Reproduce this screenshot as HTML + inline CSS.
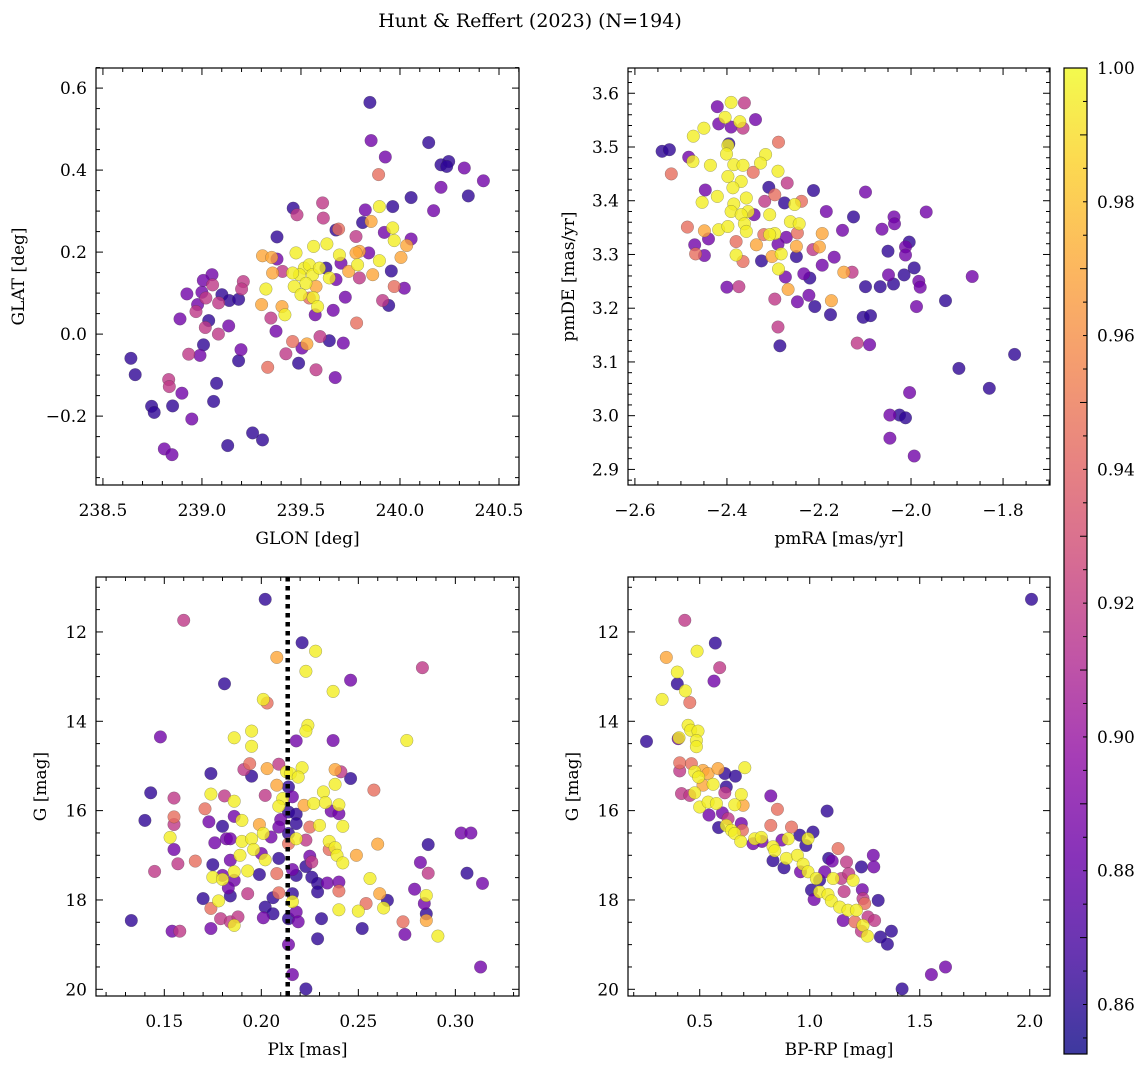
<!DOCTYPE html>
<html><head><meta charset="utf-8">
<style>
html,body{margin:0;padding:0;background:#fff;}
svg{display:block;font-family:"DejaVu Serif","Liberation Serif",serif;}
</style></head>
<body>
<svg id="fig" width="1148" height="1067" viewBox="0 0 1148 1067" xmlns="http://www.w3.org/2000/svg">
<defs>
<linearGradient id="cbgrad" x1="0" y1="1" x2="0" y2="0">
<stop offset="0" stop-color="#0d0887"/><stop offset="0.1" stop-color="#41049d"/><stop offset="0.2" stop-color="#6a00a8"/><stop offset="0.3" stop-color="#8f0da4"/><stop offset="0.4" stop-color="#b12a90"/><stop offset="0.5" stop-color="#cc4778"/><stop offset="0.6" stop-color="#e16462"/><stop offset="0.7" stop-color="#f2844b"/><stop offset="0.8" stop-color="#fca636"/><stop offset="0.9" stop-color="#fcce25"/><stop offset="1" stop-color="#f0f921"/>
</linearGradient>
</defs>
<text x="530" y="27" font-size="19" text-anchor="middle">Hunt &amp; Reffert (2023) (N=194)</text>
</svg>
<script>
// ---- Data (membership probability codes) ----
const D=0.862,P=0.885,M=0.918,S=0.945,O=0.97,Y=0.996;
// Panel 1: GLON / GLAT
const glon=[239.848,239.854,240.145,239.926,240.207,240.246,240.236,240.325,240.421,239.892,240.207,240.345,240.056,240.170,239.896,239.963,239.825,239.854,239.811,239.609,239.613,239.461,239.480,239.690,239.677,239.778,239.921,239.963,239.971,240.056,240.034,240.005,239.896,239.842,239.795,239.778,239.786,239.862,239.795,239.741,239.956,239.971,240.022,239.912,239.943,239.724,239.663,239.781,239.714,239.643,239.596,239.576,239.673,239.488,239.424,239.458,239.505,239.530,239.332,239.374,239.348,239.419,239.404,239.301,239.323,239.357,239.407,239.379,239.306,239.352,239.379,239.475,239.564,239.631,239.694,239.702,239.626,239.517,239.542,239.492,239.458,239.559,239.593,239.525,239.466,239.500,239.562,239.584,239.572,239.542,239.643,239.677,239.576,239.051,239.007,238.924,239.000,239.054,239.020,239.101,239.138,239.185,239.209,239.200,238.978,238.970,239.084,238.889,239.034,239.017,239.135,239.083,239.008,238.933,238.990,239.197,239.185,238.641,238.663,238.832,238.835,238.899,239.074,239.059,238.852,238.746,238.759,238.949,239.256,239.306,239.130,238.810,238.849];
const glat=[0.565,0.472,0.467,0.432,0.413,0.421,0.409,0.405,0.374,0.389,0.358,0.337,0.333,0.301,0.311,0.311,0.303,0.275,0.272,0.320,0.283,0.307,0.291,0.256,0.254,0.238,0.248,0.259,0.228,0.232,0.216,0.187,0.179,0.198,0.202,0.198,0.169,0.145,0.137,0.153,0.154,0.116,0.112,0.082,0.070,0.090,0.058,0.027,-0.022,-0.016,-0.006,-0.087,-0.106,-0.071,-0.048,-0.018,-0.034,-0.024,-0.081,0.007,0.039,0.047,0.067,0.072,0.110,0.149,0.153,0.237,0.191,0.187,0.183,0.198,0.214,0.220,0.193,0.173,0.161,0.161,0.169,0.145,0.149,0.145,0.161,0.124,0.116,0.096,0.089,0.067,0.047,0.088,0.137,0.133,0.116,0.145,0.131,0.098,0.102,0.120,0.088,0.096,0.082,0.085,0.128,0.110,0.072,0.055,0.076,0.037,0.033,0.016,0.020,0.000,-0.026,-0.049,-0.052,-0.038,-0.065,-0.059,-0.099,-0.111,-0.128,-0.144,-0.120,-0.164,-0.175,-0.176,-0.191,-0.207,-0.241,-0.258,-0.272,-0.280,-0.294];
const prob1=[D,P,D,P,D,D,D,P,P,S,P,D,D,P,Y,D,P,O,D,M,M,D,M,S,D,M,P,Y,Y,P,O,O,Y,P,O,O,Y,O,M,O,D,S,P,M,D,P,P,S,P,D,M,M,P,D,M,S,P,O,S,P,M,Y,O,O,Y,O,M,D,O,O,P,Y,Y,Y,Y,P,D,Y,Y,Y,Y,Y,Y,Y,Y,Y,Y,Y,P,S,Y,P,O,P,P,P,P,M,M,D,D,D,M,M,P,M,M,P,D,M,P,M,D,M,P,P,D,D,D,M,M,P,D,D,D,D,D,P,D,D,D,P,P];
// Panel 2: pmRA / pmDE
const pmra=[-2.391,-2.421,-2.362,-2.338,-2.404,-2.418,-2.391,-2.372,-2.365,-2.450,-2.473,-2.288,-2.396,-2.398,-2.541,-2.525,-2.483,-2.474,-2.401,-2.316,-2.327,-2.521,-2.436,-2.385,-2.365,-2.398,-2.289,-2.343,-2.369,-2.269,-2.447,-2.421,-2.454,-2.387,-2.358,-2.309,-2.296,-2.318,-2.275,-2.253,-2.238,-2.212,-2.099,-2.385,-2.391,-2.354,-2.369,-2.341,-2.307,-2.184,-2.125,-2.037,-1.967,-2.486,-2.449,-2.418,-2.398,-2.362,-2.358,-2.440,-2.470,-2.468,-2.449,-2.380,-2.336,-2.320,-2.296,-2.307,-2.262,-2.243,-2.247,-2.271,-2.249,-2.289,-2.380,-2.365,-2.325,-2.302,-2.282,-2.249,-2.213,-2.199,-2.193,-2.149,-2.063,-2.036,-2.004,-2.012,-2.050,-2.012,-2.288,-2.273,-2.233,-2.220,-2.193,-2.167,-2.146,-2.128,-2.400,-2.374,-2.296,-2.267,-2.247,-2.222,-2.209,-2.173,-2.175,-2.099,-2.067,-2.049,-2.038,-2.015,-1.993,-1.983,-1.980,-1.867,-1.925,-1.988,-2.104,-2.088,-2.289,-2.285,-2.117,-2.090,-1.775,-1.896,-1.830,-2.003,-2.046,-2.025,-2.012,-2.046,-1.993];
const pmde=[3.583,3.575,3.582,3.551,3.555,3.543,3.537,3.547,3.535,3.535,3.520,3.509,3.506,3.503,3.492,3.495,3.481,3.473,3.487,3.486,3.470,3.450,3.466,3.467,3.466,3.445,3.455,3.453,3.436,3.433,3.420,3.408,3.397,3.424,3.405,3.425,3.411,3.399,3.396,3.393,3.399,3.419,3.416,3.394,3.380,3.380,3.374,3.374,3.374,3.380,3.370,3.370,3.379,3.351,3.344,3.346,3.352,3.357,3.343,3.329,3.318,3.301,3.298,3.324,3.318,3.337,3.339,3.337,3.361,3.357,3.340,3.332,3.315,3.319,3.299,3.287,3.288,3.296,3.301,3.296,3.309,3.314,3.339,3.345,3.347,3.357,3.323,3.314,3.306,3.299,3.273,3.258,3.264,3.256,3.280,3.295,3.267,3.267,3.239,3.240,3.217,3.235,3.212,3.224,3.203,3.214,3.188,3.240,3.240,3.262,3.245,3.262,3.275,3.250,3.239,3.259,3.214,3.203,3.183,3.186,3.165,3.130,3.135,3.132,3.114,3.088,3.051,3.043,3.001,3.001,2.996,2.958,2.925];
const prob2=[Y,P,M,P,Y,P,P,Y,M,Y,Y,S,D,Y,D,D,P,Y,Y,Y,Y,S,Y,Y,Y,Y,Y,S,Y,M,P,Y,Y,Y,Y,D,S,M,D,Y,S,D,P,Y,Y,Y,Y,P,Y,P,D,P,P,S,O,Y,Y,Y,Y,P,P,S,P,S,O,S,Y,Y,Y,Y,S,P,O,P,Y,S,D,O,Y,D,M,O,O,P,P,P,D,P,D,P,Y,P,P,D,P,P,O,M,P,M,M,O,P,P,D,O,D,D,D,P,D,D,D,P,P,P,D,P,D,D,M,D,M,P,D,D,D,P,P,D,D,P,P];
// Panel 3: Plx / G
const plx=[0.202,0.160,0.221,0.228,0.208,0.223,0.283,0.181,0.246,0.237,0.201,0.203,0.224,0.223,0.148,0.186,0.195,0.195,0.218,0.237,0.275,0.194,0.191,0.195,0.203,0.209,0.213,0.215,0.221,0.219,0.174,0.238,0.241,0.246,0.238,0.208,0.214,0.258,0.143,0.174,0.155,0.181,0.186,0.202,0.211,0.209,0.216,0.222,0.227,0.232,0.233,0.240,0.171,0.155,0.155,0.140,0.173,0.186,0.190,0.180,0.210,0.214,0.218,0.209,0.218,0.199,0.236,0.240,0.225,0.230,0.242,0.153,0.155,0.176,0.182,0.184,0.190,0.195,0.201,0.205,0.214,0.214,0.218,0.223,0.235,0.238,0.239,0.242,0.235,0.260,0.249,0.286,0.303,0.308,0.196,0.200,0.189,0.202,0.184,0.209,0.225,0.226,0.223,0.216,0.157,0.166,0.145,0.175,0.175,0.180,0.186,0.193,0.180,0.186,0.199,0.208,0.218,0.226,0.229,0.234,0.240,0.240,0.256,0.282,0.286,0.306,0.314,0.170,0.178,0.184,0.183,0.193,0.202,0.206,0.209,0.216,0.216,0.229,0.261,0.265,0.279,0.285,0.284,0.254,0.263,0.240,0.250,0.174,0.179,0.184,0.188,0.186,0.201,0.206,0.214,0.218,0.219,0.231,0.133,0.154,0.158,0.174,0.229,0.252,0.273,0.274,0.285,0.285,0.291,0.214,0.216,0.223,0.313];
const gmag3=[11.27,11.74,12.24,12.43,12.57,12.88,12.80,13.16,13.08,13.33,13.51,13.59,14.09,14.22,14.35,14.37,14.22,14.56,14.44,14.43,14.43,14.95,15.08,15.23,15.06,14.96,15.13,15.17,15.04,15.25,15.17,15.08,15.13,15.28,15.41,15.43,15.47,15.54,15.60,15.63,15.72,15.67,15.79,15.66,15.73,15.90,15.69,15.88,15.84,15.58,15.82,15.87,15.96,16.14,16.31,16.22,16.25,16.13,16.22,16.35,16.20,16.03,16.08,16.37,16.29,16.31,16.01,16.07,16.37,16.33,16.35,16.60,16.87,16.72,16.63,16.63,16.69,16.63,16.51,16.59,16.51,16.74,16.63,16.66,16.69,16.83,17.00,17.17,16.87,16.75,17.00,16.76,16.50,16.50,16.87,16.96,17.00,17.10,17.11,17.07,17.02,17.15,17.25,17.32,17.19,17.13,17.36,17.21,17.49,17.54,17.37,17.35,17.45,17.56,17.43,17.41,17.45,17.49,17.63,17.62,17.60,17.80,17.52,17.16,17.40,17.40,17.63,17.97,18.02,17.91,17.73,17.86,18.16,17.95,17.84,17.86,18.04,17.82,17.86,18.01,17.76,17.90,18.08,18.08,18.18,18.22,18.25,18.19,18.42,18.49,18.38,18.57,18.40,18.31,18.42,18.27,18.49,18.42,18.46,18.70,18.70,18.64,18.87,18.64,18.49,18.77,18.31,18.46,18.81,19.00,19.67,19.99,19.50];
const prob3=[D,M,D,Y,O,Y,M,D,P,Y,Y,S,Y,Y,P,Y,Y,Y,P,P,Y,S,M,D,O,M,Y,Y,Y,Y,D,O,M,D,Y,O,D,S,D,Y,M,M,Y,M,Y,Y,P,O,Y,Y,Y,Y,S,S,M,D,P,P,Y,D,P,D,D,P,D,O,P,P,S,Y,Y,Y,P,P,P,P,Y,Y,Y,P,D,S,Y,M,Y,Y,Y,Y,S,O,O,D,P,P,Y,P,Y,Y,P,D,P,M,D,P,M,S,M,D,Y,Y,Y,Y,P,P,D,S,D,D,D,P,P,S,Y,P,M,D,P,D,Y,D,P,M,D,D,S,D,Y,D,O,D,P,Y,P,S,Y,Y,Y,S,M,M,M,Y,P,D,D,P,P,D,D,P,M,P,D,D,S,P,D,O,Y,P,P,D,P];
// Panel 4: BP-RP / G
const bprp=[2.008,0.432,0.571,0.488,0.348,0.591,0.398,0.565,0.398,0.435,0.329,0.455,0.258,0.402,0.406,0.447,0.459,0.492,0.485,0.485,0.409,0.409,0.462,0.477,0.495,0.515,0.538,0.561,0.583,0.614,0.662,0.705,0.621,0.614,0.689,0.477,0.417,0.455,0.515,0.500,0.538,0.576,0.659,0.697,0.542,0.586,0.603,0.629,0.621,0.644,0.689,0.694,0.659,0.686,0.742,0.750,0.783,0.780,0.823,0.853,0.823,0.917,1.079,1.015,0.992,0.955,0.902,0.874,0.982,0.833,0.841,0.894,0.944,0.833,0.883,0.970,0.958,0.992,1.129,1.086,1.102,1.167,1.289,1.235,1.291,1.068,1.030,1.045,1.106,1.144,1.177,1.197,1.008,1.020,1.045,1.083,1.098,1.156,1.136,1.174,1.212,1.239,1.242,1.250,1.311,1.152,1.205,1.242,1.265,1.295,1.235,1.262,1.321,1.371,1.353,1.420,1.553,1.617];
const gmag4=[11.27,11.74,12.25,12.43,12.57,12.80,12.90,13.10,13.16,13.32,13.51,13.58,14.45,14.39,14.37,14.09,14.20,14.22,14.43,14.57,14.93,15.11,14.95,15.13,15.25,15.10,15.17,15.41,15.06,15.17,15.23,15.04,15.47,15.60,15.64,15.60,15.62,15.66,15.43,15.92,15.81,15.84,15.87,15.88,16.10,16.38,16.05,16.18,16.33,16.44,16.29,16.44,16.51,16.69,16.74,16.63,16.69,16.60,15.67,15.97,16.33,16.37,16.01,16.48,16.63,16.55,16.63,16.66,16.78,16.81,16.90,17.07,17.00,17.12,17.28,17.20,17.37,17.37,16.85,17.07,17.13,17.15,17.00,17.26,17.26,17.37,17.52,17.56,17.52,17.52,17.41,17.56,17.78,17.99,17.82,17.88,18.02,17.81,18.16,18.23,18.23,17.77,17.97,18.08,18.01,18.46,18.49,18.57,18.38,18.46,18.70,18.81,18.83,18.70,18.99,19.99,19.67,19.50];
const prob4=[D,M,D,Y,O,M,Y,P,D,Y,Y,S,D,P,Y,Y,Y,Y,Y,Y,S,M,S,Y,Y,O,O,Y,O,D,D,Y,D,M,Y,Y,M,M,O,Y,Y,Y,Y,O,P,D,P,M,Y,Y,P,S,Y,Y,P,Y,P,Y,P,S,S,S,D,D,Y,D,Y,P,D,Y,Y,Y,Y,D,D,Y,P,Y,S,D,P,M,P,D,P,P,Y,D,Y,M,M,Y,D,P,Y,Y,Y,M,Y,Y,Y,P,M,S,D,P,S,Y,M,M,M,Y,D,D,D,D,P,P];

// tick label arrays
const ticks1x=[238.5,239.0,239.5,240.0,240.5], ticks1y=[-0.2,0.0,0.2,0.4,0.6];
const ticks2x=[-2.6,-2.4,-2.2,-2.0,-1.8], ticks2y=[2.9,3.0,3.1,3.2,3.3,3.4,3.5,3.6];
const ticks3x=[0.15,0.20,0.25,0.30], ticksGy=[12,14,16,18,20];
const ticks4x=[0.5,1.0,1.5,2.0];
const cbTicks=[0.86,0.88,0.90,0.92,0.94,0.96,0.98,1.00];
const plxLine=0.2136;
const VMIN=0.8526, VMAX=1.0;

const NS="http://www.w3.org/2000/svg";
const svg=document.getElementById('fig');
function el(tag,attrs,parent){const e=document.createElementNS(NS,tag);for(const k in attrs)e.setAttribute(k,attrs[k]);(parent||svg).appendChild(e);return e;}
const stops=[[13,8,135],[65,4,157],[106,0,168],[143,13,164],[177,42,144],[204,71,120],[225,100,98],[242,132,75],[252,166,54],[252,206,37],[240,249,33]];
function plasma(v){let t=(v-VMIN)/(VMAX-VMIN);t=Math.max(0,Math.min(1,t));const f=t*10,i=Math.min(9,Math.floor(f)),r=f-i;const a=stops[i],b=stops[i+1];return `rgb(${Math.round(a[0]+(b[0]-a[0])*r)},${Math.round(a[1]+(b[1]-a[1])*r)},${Math.round(a[2]+(b[2]-a[2])*r)})`;}
function fmt(v,d){const s=Math.abs(v).toFixed(d);return (v<0?'\u2212':'')+s;}
const FS=17;

function panel(cfg){
  const g=el('g',{});
  
  
  const {x0,x1,y0,y1}=cfg;
  const sx=v=>x0+(v-cfg.xmin)/(cfg.xmax-cfg.xmin)*(x1-x0);
  const sy=v=>cfg.yinv? y0+(v-cfg.ymin)/(cfg.ymax-cfg.ymin)*(y1-y0) : y1-(v-cfg.ymin)/(cfg.ymax-cfg.ymin)*(y1-y0);
  const clip='clip-'+cfg.name;
  const cp=el('clipPath',{id:clip},g);el('rect',{x:x0,y:y0,width:x1-x0,height:y1-y0},cp);
  const pts=el('g',{'clip-path':`url(#${clip})`},g);
  
  
  const idx=cfg.xs.map((_,i)=>i).sort((a,b)=>cfg.cs[a]-cfg.cs[b]);
  idx.forEach(i=>{
    const c=el('circle',{cx:sx(cfg.xs[i]).toFixed(1),cy:sy(cfg.ys[i]).toFixed(1),r:6.3,fill:plasma(cfg.cs[i]),'fill-opacity':0.8,stroke:'rgba(60,60,60,0.45)','stroke-width':0.5},pts);
    
    
  });
  if(cfg.vline!==undefined){
    const l=el('line',{x1:sx(cfg.vline),x2:sx(cfg.vline),y1:y0,y2:y1,stroke:'#000','stroke-width':4.5,'stroke-dasharray':'4.5 4.5'},g);
    
    
  }
  const fr=el('rect',{x:x0,y:y0,width:x1-x0,height:y1-y0,fill:'none',stroke:'#000','stroke-width':1.2},g);
  
  
  const tg=el('g',{stroke:'#000','stroke-width':1},g);
  function xt(v,len){const X=sx(v);if(X<x0-0.5||X>x1+0.5)return;el('line',{x1:X,x2:X,y1:y1,y2:y1-len},tg);el('line',{x1:X,x2:X,y1:y0,y2:y0+len},tg);}
  function yt(v,len){const Yp=sy(v);if(Yp<y0-0.5||Yp>y1+0.5)return;el('line',{x1:x0,x2:x0+len,y1:Yp,y2:Yp},tg);el('line',{x1:x1,x2:x1-len,y1:Yp,y2:Yp},tg);}
  const xstep=cfg.xt[1]-cfg.xt[0], ystep=cfg.yt[1]-cfg.yt[0];
  for(let k=-10;k<cfg.xt.length*cfg.xminor+10;k++){const v=cfg.xt[0]+k*xstep/cfg.xminor;xt(v,k%cfg.xminor===0?7:4);}
  for(let k=-10;k<cfg.yt.length*cfg.yminor+10;k++){const v=cfg.yt[0]+k*ystep/cfg.yminor;yt(v,k%cfg.yminor===0?7:4);}
  cfg.xt.forEach(v=>{const t=el('text',{x:sx(v),y:y1+31,'font-size':FS,'text-anchor':'middle'},g);t.textContent=fmt(v,cfg.xd);
    });
  cfg.yt.forEach(v=>{const t=el('text',{x:x0-9,y:sy(v)+6,'font-size':FS,'text-anchor':'end'},g);t.textContent=fmt(v,cfg.yd);
    });
  const xl=el('text',{x:(x0+x1)/2,y:y1+59,'font-size':FS,'text-anchor':'middle'},g);xl.textContent=cfg.xlabel;
  
  const yl=el('text',{x:cfg.ylx,y:(y0+y1)/2,'font-size':FS,'text-anchor':'middle',transform:`rotate(-90 ${cfg.ylx} ${(y0+y1)/2})`},g);yl.textContent=cfg.ylabel;
  
}

panel({name:'glon-glat-panel',x0:96,x1:519,y0:68,y1:485,xmin:238.465,xmax:240.601,ymin:-0.368,ymax:0.649,xs:glon,ys:glat,cs:prob1,xt:ticks1x,yt:ticks1y,xminor:5,yminor:4,xd:1,yd:1,xlabel:'GLON [deg]',ylabel:'GLAT [deg]',ylx:24});
panel({name:'pm-panel',x0:628,x1:1050,y0:68,y1:485,xmin:-2.615,xmax:-1.698,ymin:2.871,ymax:3.647,xs:pmra,ys:pmde,cs:prob2,xt:ticks2x,yt:ticks2y,xminor:4,yminor:5,xd:1,yd:1,xlabel:'pmRA [mas/yr]',ylabel:'pmDE [mas/yr]',ylx:574});
panel({name:'plx-g-panel',x0:96,x1:519,y0:577,y1:996,xmin:0.1148,xmax:0.3328,ymin:10.77,ymax:20.15,yinv:true,xs:plx,ys:gmag3,cs:prob3,xt:ticks3x,yt:ticksGy,xminor:5,yminor:4,xd:2,yd:0,xlabel:'Plx [mas]',ylabel:'G [mag]',ylx:46,vline:plxLine});
panel({name:'cmd-panel',x0:628,x1:1050,y0:577,y1:996,xmin:0.174,xmax:2.092,ymin:10.77,ymax:20.15,yinv:true,xs:bprp,ys:gmag4,cs:prob4,xt:ticks4x,yt:ticksGy,xminor:5,yminor:4,xd:1,yd:0,xlabel:'BP-RP [mag]',ylabel:'G [mag]',ylx:578});

// colorbar
(function(){
  const cx0=1064,cx1=1087,cy0=68,cy1=1054;
  const g=el('g',{});
  
  
  el('rect',{x:cx0,y:cy0,width:cx1-cx0,height:cy1-cy0,fill:'url(#cbgrad)','fill-opacity':0.8},g);
  el('rect',{x:cx0,y:cy0,width:cx1-cx0,height:cy1-cy0,fill:'none',stroke:'#000','stroke-width':1.2},g);
  const sy=v=>cy1-(v-VMIN)/(VMAX-VMIN)*(cy1-cy0);
  for(let k=0;k<=40;k++){const v=0.85+k*0.005;const Yp=sy(v);if(Yp<cy0-0.5||Yp>cy1+0.5)continue;const maj=k%4===0;el('line',{x1:cx1,x2:cx1-(maj?7:4),y1:Yp,y2:Yp,stroke:'#000','stroke-width':1},g);}
  cbTicks.forEach(v=>{const t=el('text',{x:cx1+10,y:sy(v)+6,'font-size':FS},g);t.textContent=v.toFixed(2);
    });
})();
</script>
</body></html>
